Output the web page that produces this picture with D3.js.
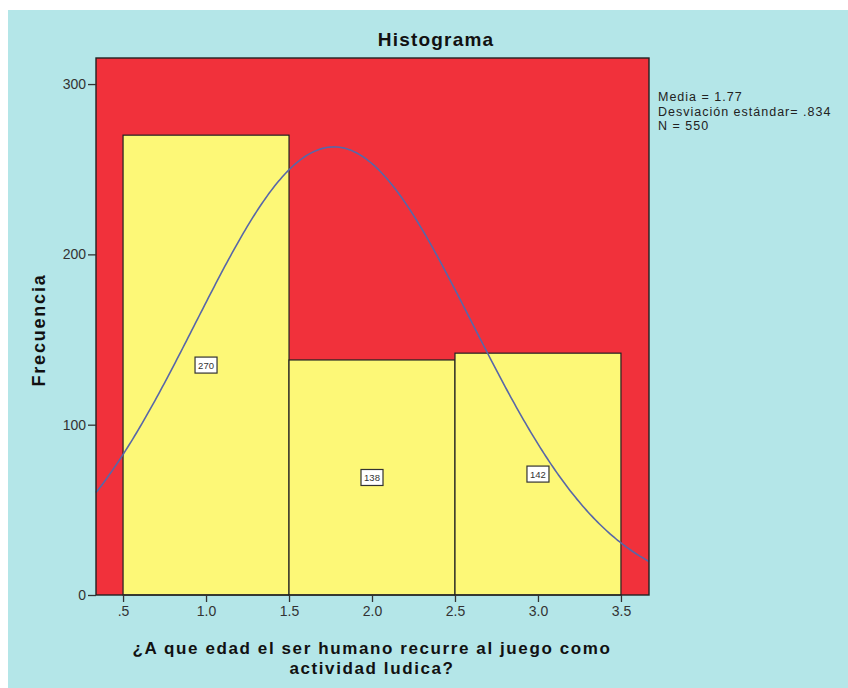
<!DOCTYPE html>
<html><head><meta charset="utf-8">
<script src="https://cdn.jsdelivr.net/npm/d3@7"></script>
<style>body{margin:0;background:#fff;}svg{display:block;font-family:"Liberation Sans",Arial,sans-serif;}</style>
</head><body>
<svg id="c" width="848" height="688"></svg>
<script>
const binEdges = [0.5, 1.5, 2.5, 3.5];
const counts = [270, 138, 142];
const xTicks = [0.5, 1.0, 1.5, 2.0, 2.5, 3.0, 3.5];
const xTickLabels = [".5", "1.0", "1.5", "2.0", "2.5", "3.0", "3.5"];
const yTicks = [0, 100, 200, 300];
const stats = ["Media = 1.77", "Desviación estándar= .834", "N = 550"];
const mean = 1.77, sd = 0.834, N = 550;

const svg = d3.select("#c");
svg.append("rect").attr("x",8).attr("y",10).attr("width",840).attr("height",678).attr("fill","#b4e6e8");

const L=96, R=649, T=58, B=595;
const x = d3.scaleLinear().domain([0.337, 3.669]).range([L, R]);
const y = d3.scaleLinear().domain([0, 315.3]).range([B, T]);

svg.append("rect").attr("x",L).attr("y",T).attr("width",R-L).attr("height",B-T).attr("fill","#f1313b");

svg.selectAll("rect.bar").data(counts).join("rect").attr("class","bar")
  .attr("x",(d,i)=>x(binEdges[i])).attr("width",(d,i)=>x(binEdges[i+1])-x(binEdges[i]))
  .attr("y",d=>y(d)).attr("height",d=>y(0)-y(d))
  .attr("fill","#fdf877").attr("stroke","#222").attr("stroke-width",1.2);

// normal curve
const binW = 1;
const pts = d3.range(0, 301).map(i => {
  const xv = 0.337 + (3.669-0.337)*i/300;
  const yv = N*binW/(sd*Math.sqrt(2*Math.PI))*Math.exp(-0.5*((xv-mean)/sd)**2);
  return [xv, yv];
});
svg.append("path").datum(pts)
  .attr("d", d3.line().x(d=>x(d[0])).y(d=>y(d[1])))
  .attr("fill","none").attr("stroke","#5867a8").attr("stroke-width",1.6);

// bar labels
counts.forEach((c,i)=>{
  const cx = x((binEdges[i]+binEdges[i+1])/2), cy = y(c/2);
  svg.append("rect").attr("x",cx-11).attr("y",cy-8).attr("width",22).attr("height",16)
    .attr("fill","#fff").attr("stroke","#333").attr("stroke-width",1.2);
  svg.append("text").attr("x",cx).attr("y",cy+3.5).attr("text-anchor","middle")
    .attr("font-size",9.5).attr("fill","#333").text(c);
});

// frame
svg.append("rect").attr("x",L).attr("y",T).attr("width",R-L).attr("height",B-T)
  .attr("fill","none").attr("stroke","#222").attr("stroke-width",1.4);

// axes
const xa = svg.append("g").attr("transform",`translate(0,${B})`)
  .call(d3.axisBottom(x).tickValues(xTicks).tickFormat((d,i)=>xTickLabels[i]).tickSize(7).tickPadding(4));
const ya = svg.append("g").attr("transform",`translate(${L},0)`)
  .call(d3.axisLeft(y).tickValues(yTicks).tickSize(8).tickPadding(2));
[xa,ya].forEach(a=>{
  a.select(".domain").remove();
  a.selectAll("line").attr("stroke","#333").attr("stroke-width",1.3);
  a.selectAll("text").attr("font-size",14).attr("fill","#333").attr("font-family","Liberation Sans, Arial, sans-serif");
});

// title
svg.append("text").attr("x",436).attr("y",46).attr("text-anchor","middle")
  .attr("font-size",19).attr("font-weight","bold").attr("letter-spacing",1.2).attr("fill","#111").text("Histograma");

// y label
svg.append("text").attr("transform","translate(45,330) rotate(-90)").attr("text-anchor","middle")
  .attr("font-size",18).attr("font-weight","bold").attr("letter-spacing",1.8).attr("fill","#111").text("Frecuencia");

// x label
svg.append("text").attr("x",372).attr("y",654).attr("text-anchor","middle")
  .attr("font-size",17).attr("font-weight","bold").attr("letter-spacing",1.6).attr("fill","#111").text("¿A que edad el ser humano recurre al juego como");
svg.append("text").attr("x",372).attr("y",674).attr("text-anchor","middle")
  .attr("font-size",17).attr("font-weight","bold").attr("letter-spacing",1.6).attr("fill","#111").text("actividad ludica?");

// stats
svg.selectAll("text.st").data(stats).join("text").attr("class","st")
  .attr("x",658).attr("y",(d,i)=>101+i*14.5).attr("font-size",12.5).attr("letter-spacing",1).attr("fill","#222").text(d=>d);
</script>
</body></html>
